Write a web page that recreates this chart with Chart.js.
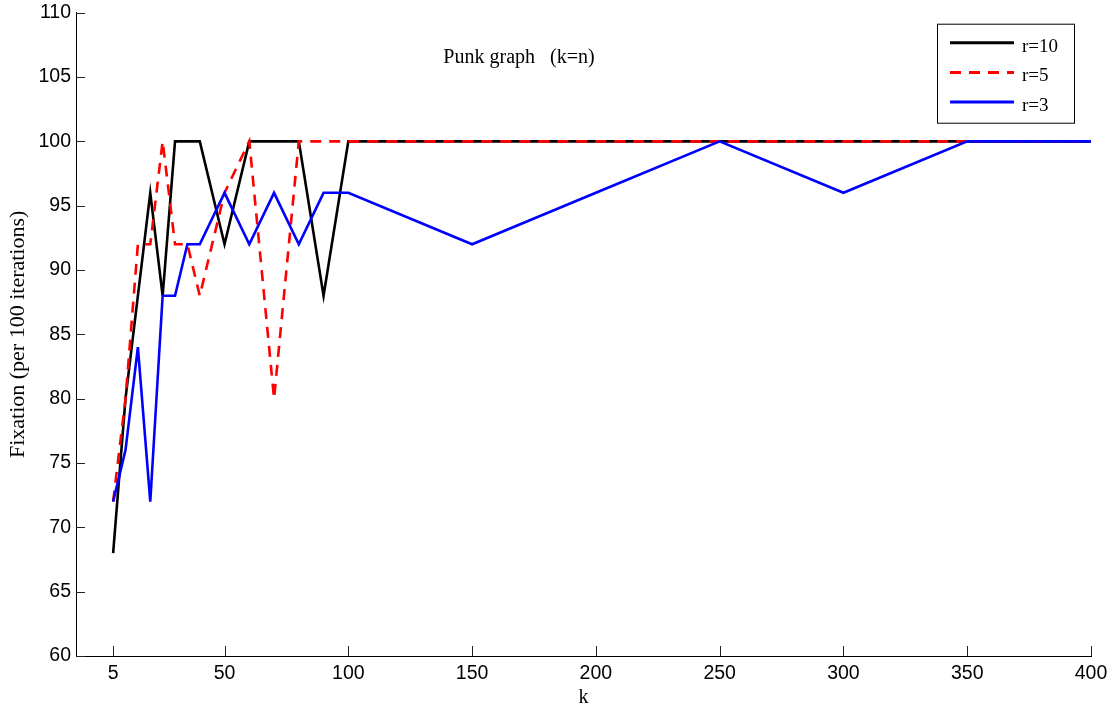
<!DOCTYPE html>
<html>
<head>
<meta charset="utf-8">
<script src="https://cdn.jsdelivr.net/npm/chart.js@4/dist/chart.umd.min.js"></script>
<style>
html, body { margin: 0; padding: 0; background: #fff; }
</style>
</head>
<body>
<canvas id="punk_chart" width="1115" height="712"></canvas>
<script>
// k values (shared by all three runs)
var kValues = [5, 10, 15, 20, 25, 30, 35, 40, 50, 60, 70, 80, 90, 100, 150, 200, 250, 300, 350, 400];
var r10 = [68, 80, 88, 96, 88, 100, 100, 100, 92, 100, 100, 100, 88, 100, 100, 100, 100, 100, 100, 100];
var r5  = [72, 80, 92, 92, 100, 92, 92, 88, 96, 100, 80, 100, 100, 100, 100, 100, 100, 100, 100, 100];
var r3  = [72, 76, 84, 72, 88, 88, 92, 92, 96, 92, 96, 92, 96, 96, 92, 96, 100, 96, 100, 100];
var xTicks = [5, 50, 100, 150, 200, 250, 300, 350, 400];
var seriesNames = ["r=10", "r=5", "r=3"];
var chartTitle = "Punk graph   (k=n)";

var sans = '"Liberation Sans", Arial, sans-serif';
var serif = '"Liberation Serif", "Times New Roman", serif';

function pts(ys) {
    var out = [];
    kValues.forEach(function(k, i) { out.push({ x: k, y: ys[i] }); });
    return out;
}

// ticks pointing inward, title inside the axes, boxed legend top right
var extras = {
    id: 'extras',
    afterDraw: function(chart) {
        var ctx = chart.ctx;
        var a = chart.chartArea;
        var xs = chart.scales.x, ys = chart.scales.y;
        ctx.save();
        ctx.strokeStyle = '#222';
        ctx.lineWidth = 1;
        ctx.beginPath();
        xs.ticks.forEach(function(t) {
            var px = Math.round(xs.getPixelForValue(t.value)) + 0.5;
            ctx.moveTo(px, a.bottom);
            ctx.lineTo(px, a.bottom - 10);
        });
        ys.ticks.forEach(function(t) {
            var py = Math.round(ys.getPixelForValue(t.value)) + 0.5;
            ctx.moveTo(a.left, py);
            ctx.lineTo(a.left + 9, py);
        });
        ctx.stroke();

        ctx.fillStyle = '#000';
        ctx.font = '20px ' + serif;
        ctx.textAlign = 'center';
        ctx.textBaseline = 'middle';
        ctx.fillText(chartTitle, a.left + 443, a.top + 45.5);

        // legend
        var bx = a.right - 154, by = a.top + 11, bw = 137, bh = 99;
        ctx.fillStyle = '#fff';
        ctx.fillRect(bx, by, bw, bh);
        ctx.strokeStyle = '#000';
        ctx.lineWidth = 1;
        ctx.strokeRect(bx + 0.5, by + 0.5, bw, bh);
        ctx.font = '19px ' + serif;
        ctx.textAlign = 'left';
        ctx.textBaseline = 'alphabetic';
        chart.data.datasets.forEach(function(ds, i) {
            var ly = by + 19 + i * 29.7;
            ctx.strokeStyle = ds.borderColor;
            ctx.lineWidth = 3;
            ctx.setLineDash(ds.borderDash || []);
            ctx.beginPath();
            ctx.moveTo(bx + 13, ly);
            ctx.lineTo(bx + 77, ly);
            ctx.stroke();
            ctx.setLineDash([]);
            ctx.fillStyle = '#000';
            ctx.fillText(ds.label, bx + 85, ly + 9);
        });
        ctx.restore();
    }
};

var ctx = document.getElementById('punk_chart');
var chart = new Chart(ctx, {
    type: 'line',
    data: {
        datasets: [
            { label: seriesNames[0], data: pts(r10), borderColor: '#000000', order: 3 },
            { label: seriesNames[1], data: pts(r5), borderColor: '#ff0000', borderDash: [11, 8], order: 2 },
            { label: seriesNames[2], data: pts(r3), borderColor: '#0000ff', order: 1 }
        ]
    },
    options: {
        responsive: false,
        animation: false,
        devicePixelRatio: 1,
        layout: { padding: { top: 12.7, right: 24, left: 0, bottom: 0 } },
        elements: {
            line: { borderWidth: 2.6, tension: 0, fill: false },
            point: { radius: 0 }
        },
        plugins: {
            legend: { display: false },
            tooltip: { enabled: false }
        },
        scales: {
            x: {
                type: 'linear',
                min: -10,
                max: 400,
                afterBuildTicks: function(s) {
                    s.ticks = xTicks.map(function(v) { return { value: v }; });
                },
                afterFit: function(s) { s.height = 56; s.paddingLeft = 0; s.paddingRight = 0; },
                grid: { display: false, drawTicks: false },
                border: { display: true, color: '#000', width: 1 },
                ticks: { font: { family: sans, size: 19.5 }, color: '#000', padding: 6, maxRotation: 0, autoSkip: false },
                title: { display: true, text: 'k', font: { family: serif, size: 20 }, color: '#000', padding: { top: 0, bottom: 2 } }
            },
            y: {
                min: 60,
                max: 110,
                afterFit: function(s) { s.width = 76; s.paddingTop = 0; s.paddingBottom = 0; },
                grid: { display: false, drawTicks: false },
                border: { display: true, color: '#000', width: 1 },
                ticks: { stepSize: 5, font: { family: sans, size: 19.5 }, color: '#000', padding: 5 },
                title: { display: true, text: 'Fixation (per 100 iterations)', font: { family: serif, size: 22 }, color: '#000', padding: { top: 5, bottom: 0 } }
            }
        }
    },
    plugins: [extras]
});
</script>
</body>
</html>
